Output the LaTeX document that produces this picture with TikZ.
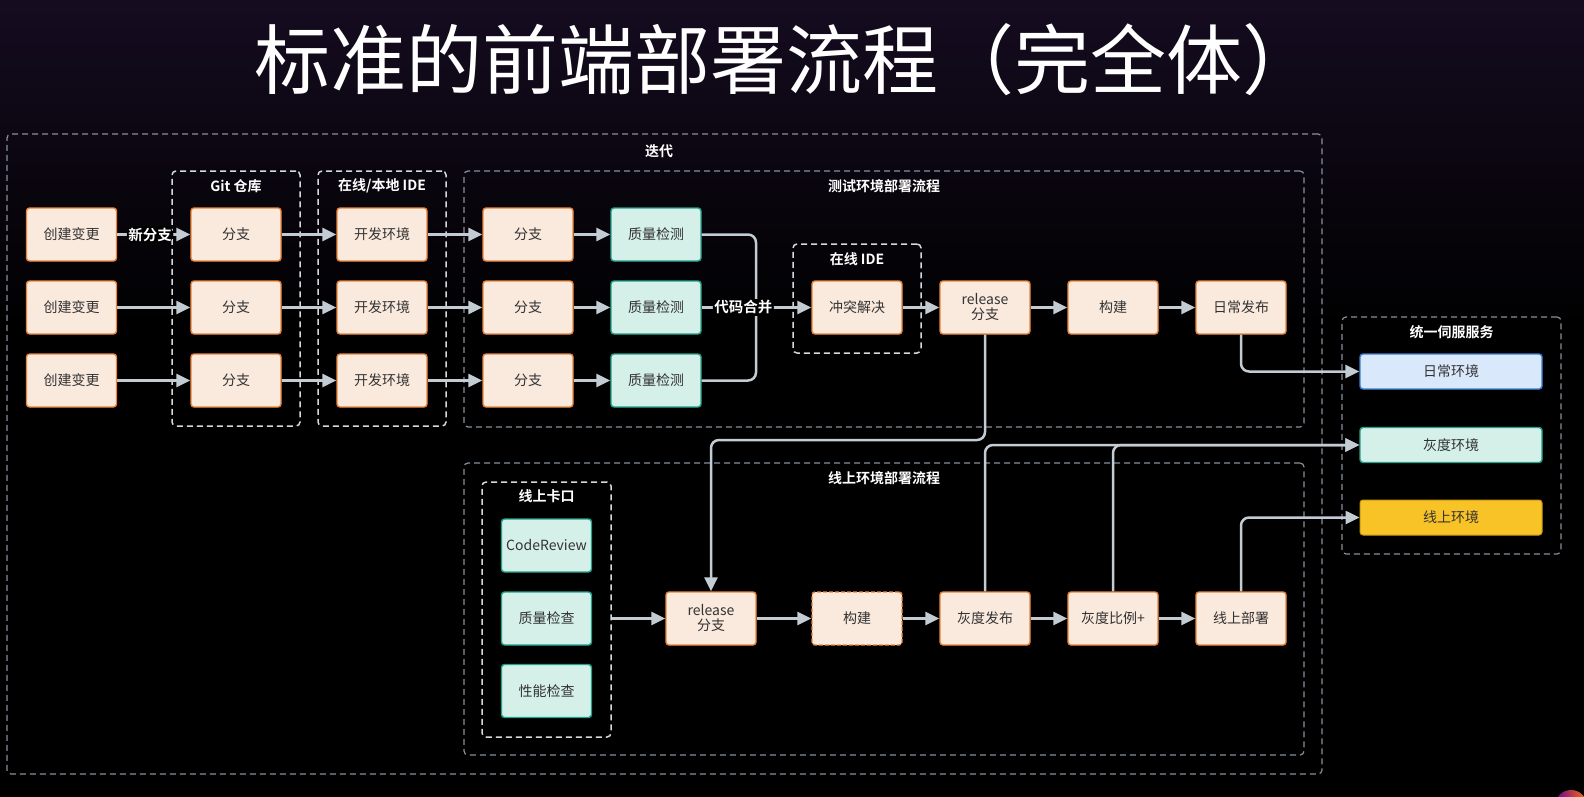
\documentclass[tikz,border=0pt]{standalone}
\usepackage{fontspec}
\setmainfont{Noto Sans CJK SC}[BoldFont={Noto Sans CJK SC Bold}]
\usetikzlibrary{arrows.meta}

\definecolor{bgtop}{HTML}{150C20}
\definecolor{procfill}{HTML}{FAE9DD}
\definecolor{procline}{HTML}{EC8539}
\definecolor{checkfill}{HTML}{D5EFE9}
\definecolor{checkline}{HTML}{1FA38D}
\definecolor{dailyfill}{HTML}{DAE8FC}
\definecolor{dailyline}{HTML}{3A80D4}
\definecolor{prodfill}{HTML}{F8C326}
\definecolor{prodline}{HTML}{C99A10}
\definecolor{nodetext}{HTML}{333333}
\definecolor{flowgray}{HTML}{C3CBD3}
\definecolor{dashgray}{HTML}{87909B}
\definecolor{dashlight}{HTML}{D6D8DB}

\begin{document}
\begin{tikzpicture}[x=1pt,y=-1pt,
  every node/.style={font=\fontsize{14}{18}\selectfont},
  proc/.style={draw=procline, fill=procfill, line width=1.4pt, rounded corners=3pt,
    minimum width=90pt, minimum height=53pt, inner sep=0pt, text=nodetext, align=center},
  check/.style={proc, draw=checkline, fill=checkfill},
  envbox/.style={proc, minimum width=182pt, minimum height=35pt},
  grpouter/.style={draw=dashgray, dash pattern=on 6pt off 4pt, line width=1.2pt,
    rounded corners=4pt, inner sep=0pt},
  grpinner/.style={grpouter, draw=dashlight, line width=1.5pt},
  grplabel/.style={text=white, font=\fontsize{14}{16}\selectfont\bfseries},
  linkline/.style={draw=flowgray, line width=2.5pt, rounded corners=8pt},
  flow/.style={linkline, -{Triangle[length=14pt,width=13pt]}},
  tag/.style={fill=black, text=white, inner sep=1.5pt, font=\fontsize{14.5}{16}\selectfont\bfseries}
]
% canvas and background
\useasboundingbox (0,0) rectangle (1584,797);
\fill[black] (0,0) rectangle (1584,797);
\shade[top color=bgtop, bottom color=black] (0,0) rectangle (1584,330);

% title
\node[text=white, font=\fontsize{76}{82}\selectfont] (title) at (786,60) {标准的前端部署流程（完全体）};

% grouping frames
\node[grpouter, minimum width=1315pt, minimum height=640pt] (iter) at (664.5,454) {};
\node[grpinner, minimum width=128pt, minimum height=255pt] (gitbox) at (236,298.5) {};
\node[grpinner, minimum width=128pt, minimum height=255pt] (idebox) at (382,298.5) {};
\node[grpouter, minimum width=840pt, minimum height=256pt] (testbox) at (884,299) {};
\node[grpinner, minimum width=128pt, minimum height=109pt] (onlineide) at (857,298.5) {};
\node[grpouter, minimum width=840pt, minimum height=292pt] (prodbox) at (884,609) {};
\node[grpinner, minimum width=129pt, minimum height=255pt] (gate) at (546.5,609.5) {};
\node[grpouter, minimum width=219pt, minimum height=237pt] (svcbox) at (1451.5,435.5) {};

\node[grplabel] (iterlbl) at (659,151) {迭代};
\node[grplabel] (gitlbl) at (236,186) {Git 仓库};
\node[grplabel] (idelbl) at (382,186) {在线/本地 IDE};
\node[grplabel] (testlbl) at (884,186) {测试环境部署流程};
\node[grplabel] (onlineidelbl) at (857,259) {在线 IDE};
\node[grplabel] (prodlbl) at (884,478) {线上环境部署流程};
\node[grplabel] (gatelbl) at (546.5,496) {线上卡口};
\node[grplabel] (svclbl) at (1451.5,332) {统一伺服服务};

% parallel branches
\foreach \r/\y in {1/234.5,2/307.5,3/380.5} {
  \node[proc] (chg\r) at (71.5,\y) {创建变更};
  \node[proc] (gbr\r) at (236,\y) {分支};
  \node[proc] (dev\r) at (382,\y) {开发环境};
  \node[proc] (tbr\r) at (528,\y) {分支};
  \node[check] (qc\r) at (656,\y) {质量检测};
}

% test environment chain
\node[proc] (fix) at (857,307.5) {冲突解决};
\node[proc] (rel1) at (985,307.5) {release\\[-3pt]分支};
\node[proc] (bld1) at (1113,307.5) {构建};
\node[proc] (daily) at (1241,307.5) {日常发布};

% production checks
\node[check] (cr) at (546.5,545.5) {CodeReview};
\node[check] (qchk) at (546.5,618.5) {质量检查};
\node[check] (perf) at (546.5,691) {性能检查};

% production chain
\node[proc] (rel2) at (711,618.5) {release\\[-3pt]分支};
\node[proc, dashed, dash pattern=on 4pt off 2pt] (bld2) at (857,618.5) {构建};
\node[proc] (gray) at (985,618.5) {灰度发布};
\node[proc] (ratio) at (1113,618.5) {灰度比例+};
\node[proc] (deploy) at (1241,618.5) {线上部署};

% environments
\node[envbox, draw=dailyline, fill=dailyfill] (envdaily) at (1451,371.5) {日常环境};
\node[envbox, draw=checkline, fill=checkfill] (envgray) at (1451,445) {灰度环境};
\node[envbox, draw=prodline, fill=prodfill, line width=1pt] (envprod) at (1451,517.5) {线上环境};

% connectors
\draw[flow] (chg1) -- node[tag, pos=0.45] (tagnew) {新分支} (gbr1);
\draw[flow] (chg2) -- (gbr2);
\draw[flow] (chg3) -- (gbr3);
\foreach \r in {1,2,3} {
  \draw[flow] (gbr\r) -- (dev\r);
  \draw[flow] (dev\r) -- (tbr\r);
  \draw[flow] (tbr\r) -- (qc\r);
}
\coordinate (merge) at (756,307.5);
\draw[linkline] (qc1.east) -| (merge);
\draw[linkline] (qc3.east) -| (merge);
\draw[flow] (qc2) -- node[tag, pos=0.38] (tagmerge) {代码合并} (fix);
\draw[flow] (fix) -- (rel1);
\draw[flow] (rel1) -- (bld1);
\draw[flow] (bld1) -- (daily);
\draw[flow] (daily.south) |- (envdaily.west);

\coordinate (relturn) at (711,440);
\draw[flow] (rel1.south) |- (relturn) -- (rel2.north);
\draw[flow] (gate.east |- rel2.west) -- (rel2.west);
\draw[flow] (rel2) -- (bld2);
\draw[flow] (bld2) -- (gray);
\draw[flow] (gray) -- (ratio);
\draw[flow] (ratio) -- (deploy);
\draw[flow] (gray.north) |- (envgray.west);
\draw[flow] (ratio.north) |- (envgray.west);
\draw[flow] (deploy.north) |- (envprod.west);

% corner badge
\shade[left color=violet!80!blue, right color=orange!90!red] (1571,806) circle (16);
\end{tikzpicture}
\end{document}
